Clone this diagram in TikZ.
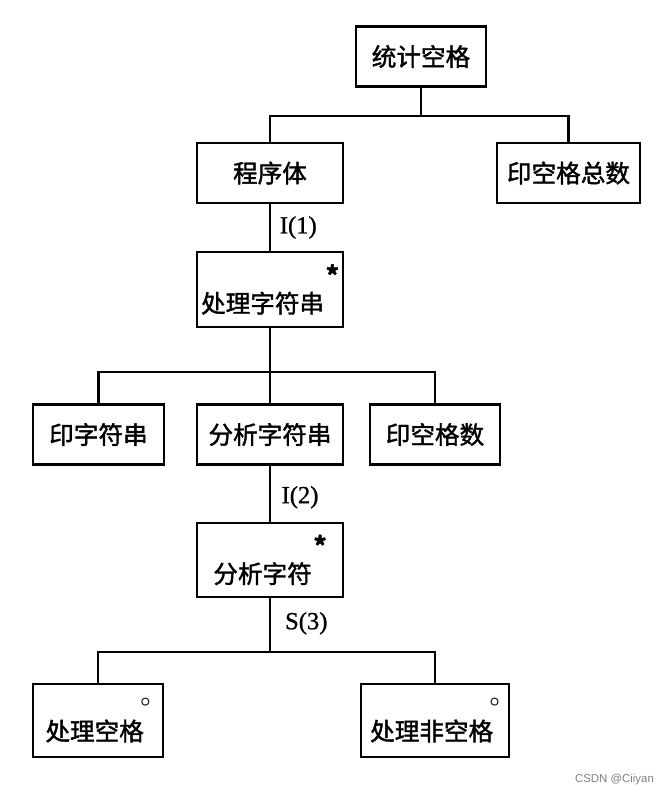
\documentclass[tikz,border=0pt]{standalone}
\usepackage{fontspec}
\setmainfont{Liberation Serif}
\newfontfamily\cjk{Noto Sans CJK SC}[FakeBold=1.6]
\newfontfamily\tagfont{Liberation Serif}[FakeBold=1]
\newfontfamily\wmfont{Liberation Sans}

% markers for iteration and selection
\newcommand{\iter}{\kern1pt\raisebox{16pt}{\fontsize{14}{14}\selectfont\textbf{*}}}
\newcommand{\sel}{\kern-2pt\raisebox{19pt}{\normalsize\boldmath$\circ$}}

\tikzset{
    box/.style={draw, line width=1.3pt, minimum height=1.2cm, inner sep=0pt,
        font=\cjk\fontsize{14}{16}\selectfont},
    tag/.style={font=\tagfont\fontsize{14}{16}\selectfont, inner sep=0pt},
    link/.style={line width=1.2pt}
}

\begin{document}
\begin{tikzpicture}[x=0.02cm, y=-0.02cm]
    \useasboundingbox (0,0) rectangle (666,796);

    % top level
    \node[box, minimum width=2.6cm] (tongji) at (421,56.5) {统计空格};
    \node[box, minimum width=2.92cm] (chengxu) at (270,173) {程序体};
    \node[box, minimum width=2.86cm] (zongshu) at (568.5,173) {印空格总数};

    % string loop
    \node[box, minimum width=2.92cm, minimum height=1.5cm] (chuli) at (270,289.5) {处理字符串\iter};
    \node[box, minimum width=2.62cm] (yinzi) at (98.5,434.5) {印字符串};
    \node[box, minimum width=2.92cm] (fenxi) at (270,434.5) {分析字符串};
    \node[box, minimum width=2.6cm] (yinshu) at (435,434.5) {印空格数};

    % char loop
    \node[box, minimum width=2.92cm, minimum height=1.48cm] (fenzi) at (270,560) {分析字符\iter};
    \node[box, minimum width=2.6cm, minimum height=1.46cm] (kong) at (98,720.5) {处理空格\sel};
    \node[box, minimum width=2.96cm, minimum height=1.46cm] (feikong) at (435,720.5) {处理非空格\sel};

    % bus points
    \coordinate (bus1) at (421,116);
    \coordinate (bus2) at (270,372);
    \coordinate (bus3) at (270,652);

    \draw[link] (tongji.south) -- (bus1) -| (chengxu.north);
    \draw[link] (bus1) -| (zongshu.north);
    \draw[link] (chengxu.south) -- node[tag, right=5pt] (it1) {I(1)} (chuli.north);
    \draw[link] (chuli.south) -- (bus2) -| (yinzi.north);
    \draw[link] (bus2) -| (yinshu.north);
    \draw[link] (bus2) -- (fenxi.north);
    \draw[link] (fenxi.south) -- node[tag, right=6pt, yshift=-2pt] (it2) {I(2)} (fenzi.north);
    \draw[link] (fenzi.south) -- node[tag, right=8pt, yshift=1pt] (sel3) {S(3)} (bus3);
    \draw[link] (bus3) -| (kong.north);
    \draw[link] (bus3) -| (feikong.north);

    \node[font=\wmfont\fontsize{6.5}{8}\selectfont, text=gray, inner sep=0pt] (wm) at (614.5,780) {CSDN @Ciiyan};
\end{tikzpicture}
\end{document}
